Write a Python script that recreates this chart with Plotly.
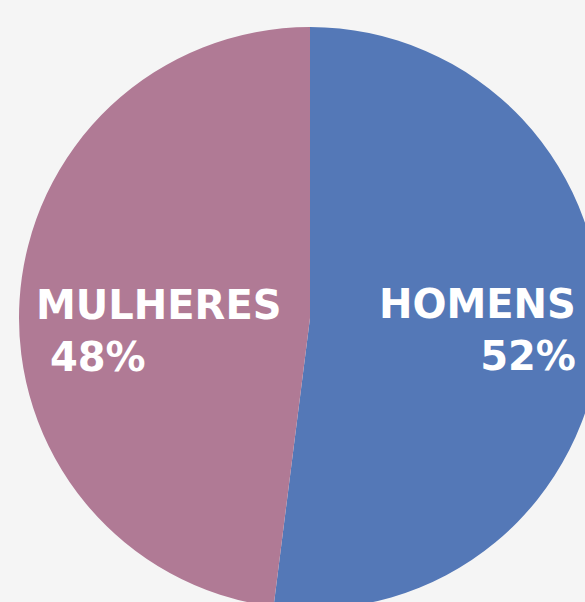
import plotly.graph_objects as go

labels = ["HOMENS", "MULHERES"]
values = [52, 48]
colors = ["#5478B7", "#B07A95"]

W, H = 620, 636
BG = "#F5F5F5"

fig = go.Figure(go.Pie(
    labels=labels,
    values=values,
    sort=False,
    direction="clockwise",
    rotation=0,
    marker=dict(colors=colors, line=dict(width=0)),
    textinfo="none",
    hoverinfo="label+percent",
    domain=dict(x=[19 / W, 601 / W], y=[1 - 609 / H, 1 - 27 / H]),
    showlegend=False,
))

font = dict(family="DejaVu Sans", size=40, color="white", weight="bold")

def px(x):
    return x / W

def py(y):
    return 1 - y / H

total = sum(values)
pct = [f"{round(v / total * 100)}%" for v in values]

# MULHERES (left, left-aligned, percentage slightly indented)
fig.add_annotation(x=px(34), y=py(331), xref="paper", yref="paper",
                   text=f"{labels[1]}<br>\u00a0{pct[1]}",
                   showarrow=False, xanchor="left", yanchor="middle", align="left", font=font)
# HOMENS (right, right-aligned)
fig.add_annotation(x=px(578), y=py(330), xref="paper", yref="paper",
                   text=f"{labels[0]}<br>{pct[0]}",
                   showarrow=False, xanchor="right", yanchor="middle", align="right", font=font)

fig.update_layout(
    width=W, height=H,
    margin=dict(l=0, r=0, t=0, b=0),
    paper_bgcolor=BG,
    plot_bgcolor=BG,
)

fig.write_html(
    "out.html",
    post_script="document.documentElement.style.overflow='hidden';document.body.style.overflow='hidden';document.body.style.margin='0';document.body.style.background='" + BG + "';",
)
